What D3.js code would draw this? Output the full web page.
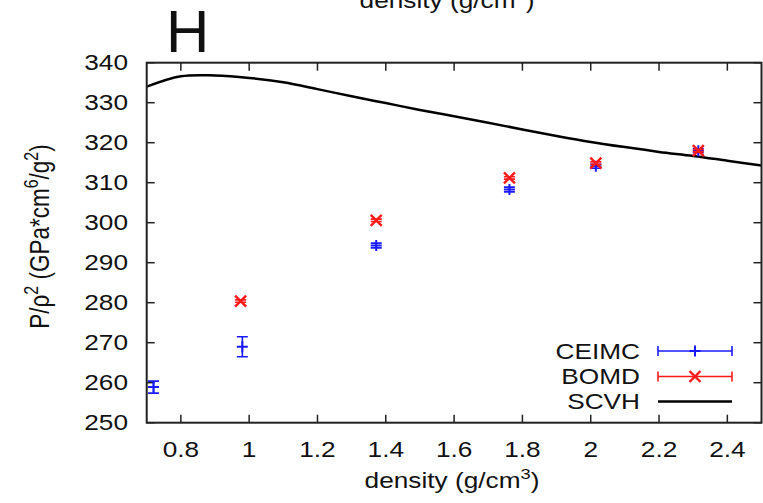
<!DOCTYPE html>
<html>
<head>
<meta charset="utf-8">
<script src="https://cdn.jsdelivr.net/npm/d3@7/dist/d3.min.js"></script>
<style>
  body { margin: 0; background: #fff; }
  text { font-family: "Liberation Sans", Arial, sans-serif; fill: #111; }
</style>
</head>
<body>
<div id="chart"></div>
<script>
// CEIMC points with error bars
var ceimcDensity = [0.72, 0.98, 1.372, 1.762, 2.015, 2.315];
var ceimcValue   = [258.9, 269.0, 294.3, 308.3, 314.1, 318.0];
var ceimcError   = [1.5, 2.5, 0.6, 0.6, 0.5, 0.5];

// BOMD points
var bomdDensity = [0.975, 1.372, 1.762, 2.015, 2.315];
var bomdValue   = [280.4, 300.6, 311.2, 314.9, 318.0];
var bomdError   = [0.3, 0.3, 0.3, 0.3, 0.3];

// SCVH curve
var scvhDensity = [0.70, 0.80, 0.90, 1.00, 1.10, 1.20, 1.30, 1.40, 1.50, 1.60,
                   1.70, 1.80, 1.90, 2.00, 2.10, 2.20, 2.30, 2.40, 2.50];
var scvhValue   = [334.0, 336.6, 336.8, 336.2, 335.1, 333.4, 331.6, 329.9, 328.2, 326.6,
                   325.0, 323.3, 321.7, 320.2, 318.9, 317.7, 316.7, 315.5, 314.3];

var xTicks = [0.8, 1, 1.2, 1.4, 1.6, 1.8, 2, 2.2, 2.4];
var yTicks = [250, 260, 270, 280, 290, 300, 310, 320, 330, 340];

var width = 763, height = 503;
var plotLeft = 146.7, plotRight = 761.5, plotTop = 62.7, plotBottom = 422.7;

var svg = d3.select("#chart").append("svg")
    .attr("width", width)
    .attr("height", height);

var x = d3.scaleLinear().domain([0.7, 2.5]).range([plotLeft, plotRight]);
var y = d3.scaleLinear().domain([250, 340]).range([plotBottom, plotTop]);

var tickLen = 8;
var axisColor = "#222";
var labelSize = "21.5px";
var supSize = "15px";
var stretch = 1.22;   // the original's glyphs are wider than they are tall

// text placed at (tx,ty) and stretched horizontally
function wideText(parent, tx, ty, anchor){
    return parent.append("text")
        .attr("transform", "translate(" + tx + "," + ty + ") scale(" + stretch + ",1)")
        .attr("text-anchor", anchor)
        .style("font-size", labelSize);
}

// ticks on all four sides
var gTicks = svg.append("g").attr("stroke", axisColor).attr("stroke-width", 1.5);
xTicks.forEach(function(t){
    gTicks.append("line").attr("x1", x(t)).attr("x2", x(t)).attr("y1", plotBottom).attr("y2", plotBottom - tickLen);
    gTicks.append("line").attr("x1", x(t)).attr("x2", x(t)).attr("y1", plotTop).attr("y2", plotTop + tickLen);
});
yTicks.forEach(function(t){
    gTicks.append("line").attr("x1", plotLeft).attr("x2", plotLeft + tickLen).attr("y1", y(t)).attr("y2", y(t));
    gTicks.append("line").attr("x1", plotRight).attr("x2", plotRight - tickLen).attr("y1", y(t)).attr("y2", y(t));
});

// tick labels
var gXLab = svg.append("g");
xTicks.forEach(function(t){
    wideText(gXLab, x(t), 456.5, "middle").text(t);
});
var gYLab = svg.append("g");
yTicks.forEach(function(t){
    wideText(gYLab, 128, y(t) + 7.5, "end").text(t);
});

// SCVH curve
var line = d3.line()
    .x(function(d, i){ return x(scvhDensity[i]); })
    .y(function(d){ return y(d); })
    .curve(d3.curveCatmullRom);

svg.append("defs").append("clipPath").attr("id", "plotClip")
    .append("rect").attr("x", plotLeft).attr("y", plotTop)
    .attr("width", plotRight - plotLeft).attr("height", plotBottom - plotTop);

svg.append("path")
    .datum(scvhValue)
    .attr("clip-path", "url(#plotClip)")
    .attr("fill", "none")
    .attr("stroke", "#000")
    .attr("stroke-width", 2.5)
    .attr("d", line);

// error bar helper
function errorBar(g, cx, yLo, yHi, color, cap){
    g.append("line").attr("x1", cx).attr("x2", cx).attr("y1", yLo).attr("y2", yHi)
        .attr("stroke", color).attr("stroke-width", 1.6);
    [yLo, yHi].forEach(function(yy){
        g.append("line").attr("x1", cx - cap).attr("x2", cx + cap).attr("y1", yy).attr("y2", yy)
            .attr("stroke", color).attr("stroke-width", 1.6);
    });
}
function plusMark(g, cx, cy, r, color){
    g.append("line").attr("x1", cx - r).attr("x2", cx + r).attr("y1", cy).attr("y2", cy)
        .attr("stroke", color).attr("stroke-width", 2);
    g.append("line").attr("x1", cx).attr("x2", cx).attr("y1", cy - r).attr("y2", cy + r)
        .attr("stroke", color).attr("stroke-width", 2);
}
function crossMark(g, cx, cy, r, color){
    g.append("line").attr("x1", cx - r).attr("x2", cx + r).attr("y1", cy - r).attr("y2", cy + r)
        .attr("stroke", color).attr("stroke-width", 2.4);
    g.append("line").attr("x1", cx - r).attr("x2", cx + r).attr("y1", cy + r).attr("y2", cy - r)
        .attr("stroke", color).attr("stroke-width", 2.4);
}

var blue = "#1a1aff", red = "#ff1a1a";

// CEIMC
var gC = svg.append("g").attr("clip-path", "url(#plotClip)");
ceimcDensity.forEach(function(d, i){
    var cx = x(d), cy = y(ceimcValue[i]);
    errorBar(gC, cx, y(ceimcValue[i] - ceimcError[i]), y(ceimcValue[i] + ceimcError[i]), blue, 5.5);
    plusMark(gC, cx, cy, 5.5, blue);
});

// BOMD
var gB = svg.append("g").attr("clip-path", "url(#plotClip)");
bomdDensity.forEach(function(d, i){
    var cx = x(d), cy = y(bomdValue[i]);
    errorBar(gB, cx, y(bomdValue[i] - bomdError[i]), y(bomdValue[i] + bomdError[i]), red, 5.5);
    crossMark(gB, cx, cy, 5.5, red);
});

// frame
svg.append("rect")
    .attr("x", plotLeft).attr("y", plotTop)
    .attr("width", plotRight - plotLeft).attr("height", plotBottom - plotTop)
    .attr("fill", "none")
    .attr("stroke", axisColor)
    .attr("stroke-width", 2);

// legend
var legendNames = ["CEIMC", "BOMD", "SCVH"];
var legendY = [351, 376.5, 401.5];
var lx1 = 658, lx2 = 732, lmid = 695;
var gL = svg.append("g");
legendNames.forEach(function(n, i){
    wideText(gL, 640, legendY[i] + 7.5, "end").text(n);
});
// CEIMC sample
gL.append("line").attr("x1", lx1).attr("x2", lx2).attr("y1", legendY[0]).attr("y2", legendY[0])
    .attr("stroke", blue).attr("stroke-width", 1.6);
[lx1, lx2].forEach(function(xx){
    gL.append("line").attr("x1", xx).attr("x2", xx).attr("y1", legendY[0] - 5).attr("y2", legendY[0] + 5)
        .attr("stroke", blue).attr("stroke-width", 1.6);
});
plusMark(gL, lmid, legendY[0], 5.5, blue);
// BOMD sample
gL.append("line").attr("x1", lx1).attr("x2", lx2).attr("y1", legendY[1]).attr("y2", legendY[1])
    .attr("stroke", red).attr("stroke-width", 1.6);
[lx1, lx2].forEach(function(xx){
    gL.append("line").attr("x1", xx).attr("x2", xx).attr("y1", legendY[1] - 5).attr("y2", legendY[1] + 5)
        .attr("stroke", red).attr("stroke-width", 1.6);
});
crossMark(gL, lmid, legendY[1], 5.5, red);
// SCVH sample
gL.append("line").attr("x1", lx1).attr("x2", lx2).attr("y1", legendY[2]).attr("y2", legendY[2])
    .attr("stroke", "#000").attr("stroke-width", 2.5);

// axis labels
function densityLabel(tx, ty){
    var t = wideText(svg, tx, ty, "middle");
    t.append("tspan").text("density (g/cm");
    t.append("tspan").attr("dy", -9).style("font-size", supSize).text("3");
    t.append("tspan").attr("dy", 9).text(")");
}
densityLabel(452, 488);
// cut-off label from the panel above
densityLabel(447, 8);

var yLabel = svg.append("text")
    .attr("transform", "translate(48.5,236.5) scale(" + stretch + ",1) rotate(-90)")
    .attr("text-anchor", "middle")
    .style("font-size", "22.5px");
yLabel.append("tspan").text("P/\u03c1");
yLabel.append("tspan").attr("dy", -9).style("font-size", "16px").text("2");
yLabel.append("tspan").attr("dy", 9).text(" (GPa*cm");
yLabel.append("tspan").attr("dy", -9).style("font-size", "16px").text("6");
yLabel.append("tspan").attr("dy", 9).text("/g");
yLabel.append("tspan").attr("dy", -9).style("font-size", "16px").text("2");
yLabel.append("tspan").attr("dy", 9).text(")");

// panel letter
svg.append("text")
    .attr("x", 166).attr("y", 52)
    .style("font-size", "60px")
    .text("H");
</script>
</body>
</html>
